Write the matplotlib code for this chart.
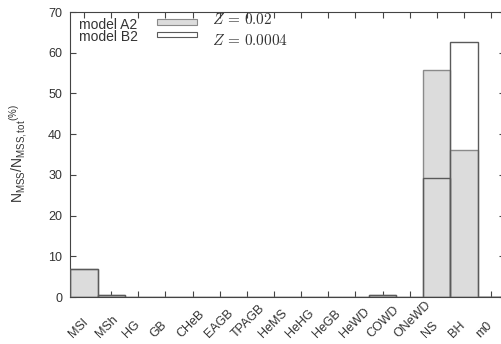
import numpy as np
import matplotlib
matplotlib.use("Agg")
import matplotlib.pyplot as plt
from matplotlib.patches import Rectangle
import matplotlib.transforms as mtransforms

plt.rcParams["font.family"] = ["Liberation Sans", "DejaVu Sans"]
plt.rcParams["mathtext.fontset"] = "custom"
plt.rcParams["mathtext.rm"] = "Liberation Sans"
plt.rcParams["mathtext.it"] = "Liberation Sans:italic"

# stellar types and fractions (%)
types = ["MSl", "MSh", "HG", "GB", "CHeB", "EAGB", "TPAGB", "HeMS", "HeHG",
         "HeGB", "HeWD", "COWD", "ONeWD", "NS", "BH", "m0"]
frac_A2 = [7.0, 0.6, 0, 0, 0, 0, 0, 0, 0, 0, 0, 0.5, 0, 55.7, 36.2, 0]
frac_B2 = [7.0, 0.6, 0, 0, 0, 0, 0, 0, 0, 0, 0, 0.5, 0, 29.2, 62.6, 0]
yticks = [0, 10, 20, 30, 40, 50, 60, 70]

txt_col = "#333333"
ax_col = "#444444"
gray = "#dcdcdc"

fig = plt.figure(figsize=(5.01, 3.44), dpi=100)
ax = fig.add_axes([0.1405, 0.1366, 0.867, 0.8285])

x = np.arange(len(types))
ax.bar(x, frac_A2, width=1.0, color=gray, edgecolor="#8a8a8a", linewidth=1.0, zorder=2)
ax.bar(x, frac_B2, width=1.0, facecolor="none", edgecolor="#5a5a5a", linewidth=1.0, zorder=3)

ax.set_xlim(-0.5, len(types) - 0.5)
ax.set_ylim(0, 70)
ax.set_yticks(yticks)
ax.set_xticks(x)
ax.set_xticklabels([])

# rotated category labels, starting a bit left of each tick (gnuplot style)
trans = mtransforms.blended_transform_factory(ax.transData, ax.transAxes)
trans = trans + mtransforms.ScaledTranslation(-11 / 100, -41 / 100, fig.dpi_scale_trans)
for xi, name in zip(x, types):
    ax.text(xi, 0, name, transform=trans, rotation=45, rotation_mode="anchor",
            ha="left", va="baseline", fontsize=9, color=txt_col, clip_on=False)

ax.tick_params(axis="x", direction="in", length=4, width=0.8, color=ax_col, top=True)
ax.tick_params(axis="y", direction="in", length=4, width=0.8, color=ax_col,
               right=True, labelsize=9, labelcolor=txt_col, pad=6)
for s in ax.spines.values():
    s.set_color(ax_col)
    s.set_linewidth(0.8)

ax.set_ylabel(r"N$_{\rm MSS}$/N$_{\rm MSS,tot}$$^{(\%)}$", fontsize=10, color=txt_col)
ax.yaxis.set_label_coords(-0.096, 0.505)

# legend drawn by hand
ax.text(0.02, 0.942, "model A2", transform=ax.transAxes, fontsize=10,
        color=txt_col, va="baseline", ha="left")
ax.text(0.02, 0.898, "model B2", transform=ax.transAxes, fontsize=10,
        color=txt_col, va="baseline", ha="left")
ax.add_patch(Rectangle((0.1987, 0.954), 0.092, 0.021, transform=ax.transAxes,
                       facecolor=gray, edgecolor="#8a8a8a", lw=0.8, clip_on=False))
ax.add_patch(Rectangle((0.1987, 0.911), 0.092, 0.018, transform=ax.transAxes,
                       facecolor="white", edgecolor="#5a5a5a", lw=0.8, clip_on=False))
ax.text(0.325, 0.9565, r"$Z\,=\,0.02$", transform=ax.transAxes, fontsize=11,
        color=txt_col, va="baseline", ha="left", math_fontfamily="cm")
ax.text(0.325, 0.885, r"$Z\,=\,0.0004$", transform=ax.transAxes, fontsize=11,
        color=txt_col, va="baseline", ha="left", math_fontfamily="cm")

fig.savefig("out.png", dpi=100)
